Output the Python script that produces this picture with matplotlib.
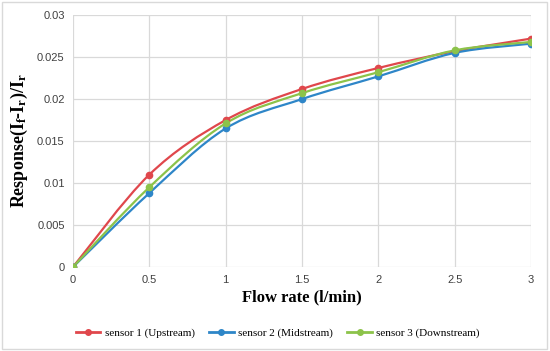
import numpy as np
import matplotlib
matplotlib.use('Agg')
import matplotlib.pyplot as plt
from matplotlib.path import Path
from matplotlib.patches import PathPatch, Rectangle

flow = [0, 0.5, 1, 1.5, 2, 2.5, 3]
sensor1 = [0, 0.0110, 0.0175, 0.0212, 0.0237, 0.0257, 0.0272]
sensor2 = [0, 0.0088, 0.0165, 0.0200, 0.0227, 0.0255, 0.0266]
sensor3 = [0, 0.0095, 0.0171, 0.0207, 0.0232, 0.0258, 0.0268]
labels = ['sensor 1 (Upstream)', 'sensor 2 (Midstream)', 'sensor 3 (Downstream)']
colors = ['#e0474c', '#2e86c8', '#8cc34a']

plt.rcParams['mathtext.fontset'] = 'custom'
plt.rcParams['mathtext.rm'] = 'Liberation Serif:bold'
plt.rcParams['mathtext.it'] = 'Liberation Serif:bold'
plt.rcParams['mathtext.bf'] = 'Liberation Serif:bold'


def smooth_path(x, y, t=1/6.0):
    # excel-style smoothed line: cubic bezier through the points
    x = np.asarray(x, float)
    y = np.asarray(y, float)
    n = len(x)
    verts = [(x[0], y[0])]
    codes = [Path.MOVETO]
    for i in range(n - 1):
        x0, y0 = (x[i - 1], y[i - 1]) if i > 0 else (x[i], y[i])
        x3, y3 = (x[i + 2], y[i + 2]) if i + 2 < n else (x[i + 1], y[i + 1])
        c1 = (x[i] + (x[i + 1] - x0) * t, y[i] + (y[i + 1] - y0) * t)
        c2 = (x[i + 1] - (x3 - x[i]) * t, y[i + 1] - (y3 - y[i]) * t)
        verts += [c1, c2, (x[i + 1], y[i + 1])]
        codes += [Path.CURVE4] * 3
    return Path(verts, codes)


fig = plt.figure(figsize=(5.5, 3.51), dpi=100)
ax = fig.add_axes([0.1327, 0.2393, 0.8328, 0.7177])

for ys, lab, c in zip([sensor1, sensor2, sensor3], labels, colors):
    ax.add_patch(PathPatch(smooth_path(flow, ys), fill=False, edgecolor=c, lw=1.6, zorder=3))
    ax.plot(flow, ys, ls='none', marker='o', ms=4.5, color=c, zorder=4)
    ax.plot([], [], color=c, lw=2, marker='o', ms=4, label=lab)

ax.set_xlim(0, 3)
ax.set_ylim(0, 0.03)
ax.set_xticks([0, 0.5, 1, 1.5, 2, 2.5, 3])
ax.set_xticklabels(['0', '0.5', '1', '1.5', '2', '2.5', '3'])
ax.set_yticks([0, 0.005, 0.01, 0.015, 0.02, 0.025, 0.03])
ax.set_yticklabels(['0', '0.005', '0.01', '0.015', '0.02', '0.025', '0.03'])
ax.grid(True, color='#d9d9d9', lw=0.9)
ax.set_axisbelow(True)
for s in ax.spines.values():
    s.set_visible(False)
ax.tick_params(length=0, labelsize=8, colors='#404040', pad=6)
for tl in ax.get_xticklabels() + ax.get_yticklabels():
    tl.set_family('Liberation Sans')

ax.set_xlabel('Flow rate (l/min)', fontsize=12, fontweight='bold',
              family='Liberation Serif', labelpad=3)
ax.set_ylabel(r'Response(I$_\mathrm{f}$-I$_\mathrm{r}$)/I$_\mathrm{r}$', fontsize=13,
              fontweight='bold', family='Liberation Serif', labelpad=5)

leg = fig.legend(loc='upper center', bbox_to_anchor=(0.505, 0.095), ncol=3, frameon=False,
                 prop={'family': 'Liberation Serif', 'size': 8}, handlelength=2.2,
                 columnspacing=1.3, handletextpad=0.4)

fig.patches.append(Rectangle((0.004, 0.006), 0.99, 0.988, transform=fig.transFigure,
                             fill=False, edgecolor='#d9d9d9', lw=1))

fig.savefig('out.png', dpi=100)
